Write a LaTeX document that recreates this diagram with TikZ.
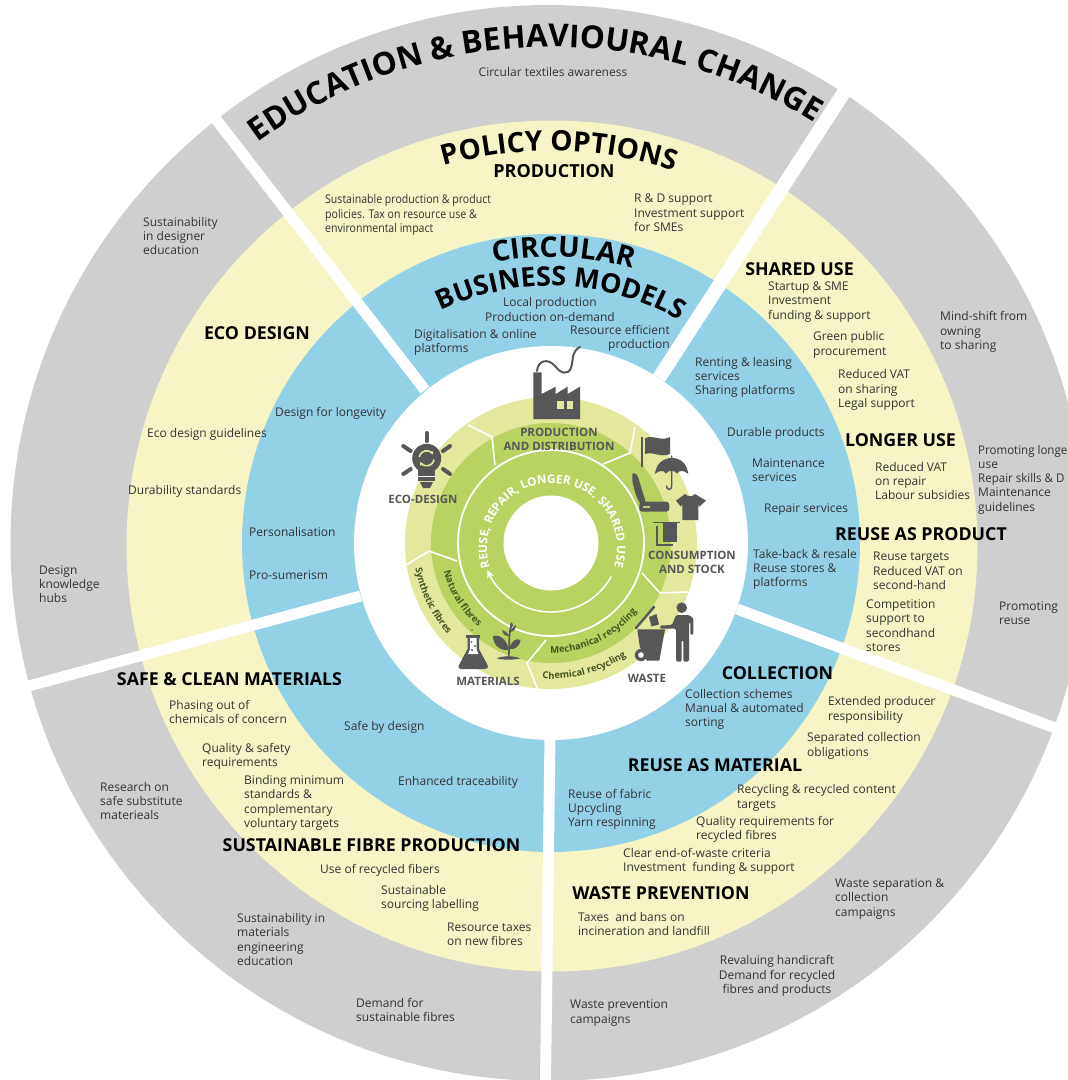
\documentclass[tikz,border=0pt]{standalone}
\usepackage{fontspec}
\setmainfont{Open Sans}
\newfontfamily\condfont[FakeStretch=0.88]{Open Sans}
\newfontfamily\slimfont[FakeStretch=0.96]{Open Sans}
\usetikzlibrary{decorations.text,arrows.meta}
\definecolor{ringgray}{HTML}{CFCFCF}
\definecolor{ringyellow}{HTML}{F7F5C6}
\definecolor{ringblue}{HTML}{93D2E6}
\definecolor{ringlight}{HTML}{E3E89D}
\definecolor{ringmid}{HTML}{B9D362}
\definecolor{ico}{HTML}{575757}
\definecolor{body}{HTML}{333333}
\definecolor{olive}{HTML}{45551F}
\newcommand{\fA}{\fontsize{31.5}{32}\selectfont\bfseries}
\newcommand{\fB}{\fontsize{28}{29}\selectfont\bfseries}
\newcommand{\fC}{\fontsize{27}{27}\selectfont\bfseries}
\newcommand{\fCc}{\fontsize{28.5}{28}\selectfont\bfseries}
\newcommand{\fD}{\fontsize{11.8}{11.5}\selectfont\bfseries\color{white}}
\newcommand{\fE}{\fontsize{9.5}{9.5}\selectfont\bfseries\color{olive}}
\tikzset{
  lab/.style={font=\fontsize{12}{14.3}\selectfont,text=body,align=left,inner sep=0pt,anchor=west,yshift=-1pt},
  labc/.style={lab,align=center,anchor=center},
  labr/.style={lab,align=right,anchor=east},
  condlab/.style={lab,font=\condfont\fontsize{12}{14.3}\selectfont},
  head/.style={font=\fontsize{17.8}{20}\selectfont\bfseries,text=black,inner sep=0pt,anchor=center},
  inlab/.style={font=\fontsize{11.5}{14}\selectfont\bfseries,text=ico,align=center,inner sep=0pt,anchor=center},
  gapline/.style={draw=white,line width=11pt},
  segline/.style={draw=white,line width=1.6pt,line join=miter},
  icofill/.style={fill=ico,draw=none},
  icoline/.style={draw=ico,fill=none,line cap=round},
}
\begin{document}
\begin{tikzpicture}[x=1pt,y=-1pt]
\useasboundingbox (0,0) rectangle (1068,1080);
\clip (0,0) rectangle (1068,1080);
\coordinate (c) at (551,543);
\coordinate (cg) at (548.5,543);
\coordinate (cy) at (552,546);
\coordinate (ct) at (552,548);
% rings
\fill[ringgray] (cg) circle (538pt);
\fill[ringyellow] (cy) circle (425.5pt);
\fill[ringblue] (c) circle (309pt);
\fill[white] (c) circle (197pt);
% separators
\coordinate (s1a) at (425,390); \coordinate (s1b) at (205,105);
\coordinate (s2a) at (659,378); \coordinate (s2b) at (852,80);
\coordinate (s3a) at (737,609); \coordinate (s3b) at (1074,735);
\coordinate (s4a) at (550,736); \coordinate (s4b) at (545.4,1090);
\coordinate (s5a) at (360.7,596); \coordinate (s5b) at (6.7,692);
\draw[gapline] (s1a) -- (s1b);
\draw[gapline,line width=14pt] (s2a) -- (s2b);
\draw[gapline] (s3a) -- (s3b);
\draw[gapline] (s4a) -- (s4b);
\draw[gapline] (s5a) -- (s5b);
% inner wheel
\fill[ringlight] (c) circle (146pt);
\fill[ringmid] (c) circle (120pt);
\fill[white] (c) circle (47.5pt);
\draw[white,line width=1.8pt] (c) circle (93pt);
\draw[segline] (468,425) -- (492,437) -- (495,465);
\draw[segline] (635,427) -- (630,453) -- (603,464);
\draw[segline] (688,592) -- (660,593) -- (642,573);
\draw[segline] (538,690) -- (527,663) -- (546,640);
\draw[segline] (406,565) -- (429,551) -- (457,561);
% arrow in the wheel
\draw[white,line width=1.5pt,-{Stealth[length=8pt,width=7pt]}] ([shift={(-29:69pt)}]c) arc[start angle=-29,end angle=-157,radius=69pt];
% curved titles
\path[decorate,decoration={text along path,text align=center,text={|\fA|EDUCATION {\&} BEHAVIOURAL CHANGE}}] ([shift={(128.6:496pt)}]c) arc[start angle=128.6,end angle=55.6,radius=496pt];
\path[decorate,decoration={text along path,text align=center,text={|\fB|POLICY OPTIONS}}] ([shift={(113.8:392pt)}]c) arc[start angle=113.8,end angle=63.8,radius=392pt];
\path[decorate,decoration={text along path,text align=center,text={|\fCc|CIRCULAR}}] ([shift={(105:286pt)}]c) arc[start angle=105,end angle=70,radius=286pt];
\path[decorate,decoration={text along path,text align=center,text={|\fC|BUSINESS MODELS}}] ([shift={(120:257pt)}]c) arc[start angle=120,end angle=55.5,radius=257pt];
\path[decorate,decoration={text along path,text align=center,text={|\fD|REUSE, REPAIR, LONGER USE, SHARED USE}}] ([shift={(200:65pt)}]ct) arc[start angle=200,end angle=-20,radius=65pt];
\path[decorate,decoration={text along path,text align=center,text={|\fE|Mechanical recycling}}] ([shift={(-96:110pt)}]c) arc[start angle=-96,end angle=-33,radius=110pt];
\path[decorate,decoration={text along path,text align=center,text={|\fE|Chemical recycling}}] ([shift={(-98:136pt)}]c) arc[start angle=-98,end angle=-52,radius=136pt];
\path[decorate,decoration={text along path,text align=center,text={|\fE|Natural fibres}}] ([shift={(188:111pt)}]c) arc[start angle=188,end angle=236,radius=111pt];
\path[decorate,decoration={text along path,text align=center,text={|\fE|Synthetic fibres}}] ([shift={(186:138pt)}]c) arc[start angle=186,end angle=226,radius=138pt];
% gray ring texts
\node[labc] (g01) at (553,71) {Circular textiles awareness};
\node[lab] (g02) at (143,235) {Sustainability\\in designer\\education};
\node[lab] (g03) at (940,331) {Mind-shift from\\owning\\to sharing};
\node[lab] (g04) at (978,478.5) {{\slimfont Promoting longe}\\use\\{\slimfont Repair skills \& D}\\Maintenance\\guidelines};
\node[lab] (g05) at (999,612) {Promoting\\reuse};
\node[lab] (g06) at (39,583) {Design\\knowledge\\hubs};
\node[lab] (g07) at (100,800) {Research on\\safe substitute\\materieals};
\node[lab] (g08) at (237,938.5) {Sustainability in\\materials\\engineering\\education};
\node[lab] (g09) at (356,1009) {Demand for\\sustainable fibres};
\node[lab] (g10) at (570,1012) {Waste prevention\\campaigns};
\node[labc] (g11) at (777,975) {Revaluing handicraft\\Demand for recycled\\fibres and products};
\node[lab] (g12) at (835,898) {Waste separation \&\\collection\\campaigns};
% yellow ring texts
\node[head,font=\fontsize{18}{20}\selectfont\bfseries] (y01) at (554,171) {PRODUCTION};
\node[condlab] (y02) at (325,214) {Sustainable production \& product\\policies. Tax on resource use \&\\environmental impact};
\node[lab] (y03) at (634,212) {R \& D support\\Investment support\\for SMEs};
\node[head] (y04) at (257,333) {ECO DESIGN};
\node[lab] (y05) at (147,433) {Eco design guidelines};
\node[lab] (y06) at (128,490) {Durability standards};
\node[head] (y07) at (799.5,269) {SHARED USE};
\node[lab] (y08) at (768,301) {Startup \& SME\\Investment\\funding \& support};
\node[lab] (y09) at (813,344) {Green public\\procurement};
\node[lab] (y10) at (838,389) {Reduced VAT\\on sharing\\Legal support};
\node[head] (y11) at (900.5,440) {LONGER USE};
\node[lab] (y12) at (875,480) {Reduced VAT\\on repair\\Labour subsidies};
\node[head] (y13) at (921,534) {REUSE AS PRODUCT};
\node[lab] (y14) at (873,570) {Reuse targets\\Reduced VAT on\\second-hand};
\node[lab] (y15) at (866,624.5) {Competition\\support to\\secondhand\\stores};
\node[lab] (y16) at (828,709) {Extended producer\\responsibility};
\node[lab] (y17) at (807,745) {Separated collection\\obligations};
\node[lab] (y18) at (737,797) {Recycling \& recycled content\\targets};
\node[lab] (y19) at (696,828) {Quality requirements for\\recycled fibres};
\node[lab] (y20) at (623,860.5) {Clear end-of-waste criteria\\Investment\ \ funding \& support};
\node[head] (y21) at (661,893) {WASTE PREVENTION};
\node[lab] (y22) at (578,923) {Taxes\ \ and bans on\\incineration and landfill};
\node[head] (y23) at (229.5,679) {SAFE \& CLEAN MATERIALS};
\node[lab] (y24) at (169,711) {Phasing out of\\chemicals of concern};
\node[lab] (y25) at (202,755) {Quality \& safety\\requirements};
\node[lab] (y26) at (244,802) {Binding minimum\\standards \&\\complementary\\voluntary targets};
\node[head] (y27) at (371.5,845) {SUSTAINABLE FIBRE PRODUCTION};
\node[lab] (y28) at (320,869) {Use of recycled fibers};
\node[lab] (y29) at (381,897.5) {Sustainable\\sourcing labelling};
\node[lab] (y30) at (447,933.5) {Resource taxes\\on new fibres};
% blue ring texts
\node[labc] (b01) at (550,308.5) {Local production\\Production on-demand};
\node[lab] (b02) at (414,341.5) {Digitalisation \& online\\platforms};
\node[labr] (b03) at (670,337) {Resource efficient\\production};
\node[lab] (b04) at (275,412) {Design for longevity};
\node[lab] (b05) at (249,531) {Personalisation};
\node[lab] (b06) at (249,574) {Pro-sumerism};
\node[lab] (b07) at (695,376.5) {Renting \& leasing\\services\\Sharing platforms};
\node[lab] (b08) at (727,432) {Durable products};
\node[lab] (b09) at (752,469) {Maintenance\\services};
\node[lab] (b10) at (764,509) {Repair services};
\node[lab] (b11) at (753,568.5) {Take-back \& resale\\Reuse stores \&\\platforms};
\node[head] (b12) at (777.5,673) {COLLECTION};
\node[lab] (b13) at (685,708.5) {Collection schemes\\Manual \& automated\\sorting};
\node[head] (b14) at (715,765) {REUSE AS MATERIAL};
\node[lab] (b15) at (568,808.5) {Reuse of fabric\\Upcycling\\Yarn respinning};
\node[lab] (b16) at (344,726) {Safe by design};
\node[lab] (b17) at (398,781) {Enhanced traceability};
% wheel labels
\node[inlab] (w01) at (559,439) {PRODUCTION\\AND DISTRIBUTION};
\node[inlab] (w02) at (423,499) {ECO-DESIGN};
\node[inlab] (w03) at (692,562) {CONSUMPTION\\AND STOCK};
\node[inlab] (w04) at (488,681) {MATERIALS};
\node[inlab] (w05) at (647,678) {WASTE};
% factory
\fill[icofill] (533.3,372.3) -- (541.7,372.3) -- (541.7,394) -- (555.7,386.7) -- (555.7,394) -- (567.7,386.7) -- (567.7,394) -- (580,386.7) -- (580,419) -- (533.3,419) -- cycle;
\fill[ringlight] (557.3,401) rectangle (564.3,409);
\fill[ringlight] (566.7,401) rectangle (573.3,409);
\draw[icoline,line width=2pt] (537,371) .. controls (538,360) and (548,358) .. (555,366) .. controls (561,374) and (568,375) .. (571,368) .. controls (574,358) and (571,352) .. (580,347);
% bulb
\fill[icofill] (426.7,458.3) circle (14.5pt);
\fill[icofill] (418,466) rectangle (435,481);
\fill[icofill] (420,482) -- (433,482) -- (430,488) -- (423,488) -- cycle;
\draw[white,line width=1pt] (418,476) -- (435,476);
\draw[icoline,line width=4pt] (426.7,433) -- (426.7,441);
\draw[icoline,line width=4pt] (403.3,446) -- (410.7,451);
\draw[icoline,line width=4pt] (450,446) -- (443,451);
\draw[icoline,line width=4pt] (403.3,474) -- (410.7,469);
\draw[icoline,line width=4pt] (450,474) -- (443,469);
\draw[ringlight,line width=1.6pt,-{Stealth[length=3.5pt,width=4pt]}] ([shift={(170:7.5pt)}]426.7,458.3) arc[start angle=170,end angle=30,radius=7.5pt];
\draw[ringlight,line width=1.6pt,-{Stealth[length=3.5pt,width=4pt]}] ([shift={(-10:7.5pt)}]426.7,458.3) arc[start angle=-10,end angle=-150,radius=7.5pt];
% flag
\fill[icofill] (641,436.7) rectangle (643.3,467.3);
\fill[icofill] (645,438.3) .. controls (653,434) and (660,442) .. (670,437) -- (670,454) .. controls (660,458) and (653,451) .. (645,454) -- cycle;
% umbrella
\fill[icofill] (655,474) .. controls (656,463) and (664,458) .. (671.7,458) .. controls (680,458) and (687,463) .. (688.3,474) .. controls (684,470) and (679,470) .. (677,473.5) .. controls (675,470) and (668,470) .. (666,473.5) .. controls (664,470) and (659,470) .. (655,474) -- cycle;
\draw[icoline,line width=1.4pt] (671.7,456) -- (671.7,486) .. controls (671.7,490.5) and (666.5,490.5) .. (666.5,486);
% seat
\fill[icofill] (632.3,473.5) .. controls (636,472) and (638,476) .. (639,480) -- (646,503) -- (640,503) .. controls (636,498) and (634,488) .. (632.5,482) -- cycle;
\fill[icofill,rounded corners=3pt] (639.3,501.7) rectangle (669.3,511.7);
\fill[ringmid] (643,505.5) rectangle (650,508);
% t-shirt
\fill[icofill] (685,494) .. controls (688,497) and (692,497) .. (695,494) -- (706,500.7) -- (699.3,506.7) -- (698.3,504) -- (698.3,520) -- (682.3,520) -- (682.3,504) -- (681,506.7) -- (676,500.7) -- cycle;
% towel
\fill[icofill] (653.3,522) rectangle (680,523.3);
\fill[icofill] (662.7,523.3) rectangle (677.3,541.7);
\draw[draw=ico,line width=2pt] (657.3,526) -- (657.3,544.5) -- (673,544.5);
% person and bin
\fill[icofill] (681.7,607.7) circle (5.3pt);
\fill[icofill,rounded corners=1.5pt] (676,615) -- (689,615) -- (693.3,618) -- (693.3,635) -- (690.3,635) -- (690.3,622) -- (689,622) -- (689,661.7) -- (683.3,661.7) -- (683.3,640) -- (681.7,640) -- (681.7,661.7) -- (676,661.7) -- (676,628.7) -- (660,628.7) -- (660,625.5) -- (672,625) -- cycle;
\fill[icofill] (637.3,629.3) -- (665,629.3) -- (659.3,660.7) -- (646.7,660.7) -- (644,650) -- (640,648) -- cycle;
\draw[icoline,line width=2.4pt] (636,628) -- (654,607);
\fill[icofill] (649,617) -- (656.5,614) -- (659,624.5) -- (651.5,626.5) -- cycle;
\fill[icofill] (641,655) circle (6.2pt);
\fill[white] (641,655) circle (2.8pt);
% flask
\fill[icofill] (465.8,635) rectangle (480.3,638);
\fill[icofill] (467.5,637) -- (479,637) -- (479,649) -- (487.5,665) .. controls (488.5,668) and (487,669) .. (485,669) -- (461,669) .. controls (458.5,669) and (457.5,667) .. (459,665) -- (467.5,649) -- cycle;
\fill[white] (469.8,638) -- (476.7,638) -- (476.7,650) -- (478.5,654) -- (468,654) -- (469.8,650) -- cycle;
\fill[icofill] (471.5,642) circle (0.9pt);
\fill[icofill] (475,646) circle (1.2pt);
\fill[icofill] (472,650) circle (1.2pt);
\fill[icofill] (472,630) circle (0.9pt);
% plant
\draw[draw=ico,line width=1.6pt] (508.5,659) .. controls (510,645) and (508,635) .. (511.5,624);
\fill[icofill] (497,658.5) .. controls (502,655.5) and (515,655.5) .. (520,658.5) .. controls (515,660) and (502,660) .. (497,658.5) -- cycle;
\fill[icofill] (509,650) .. controls (507,640) and (500,634) .. (493,636) .. controls (493,645) and (500,651) .. (509,650) -- cycle;
\fill[icofill] (509,649) .. controls (512,640) and (516,638) .. (520.5,640) .. controls (520,646) and (515,650) .. (509,649) -- cycle;
\fill[icofill] (510,632) .. controls (512,628) and (514,626) .. (516,625) .. controls (516,628) and (514,632) .. (510,632) -- cycle;
\fill[icofill] (509,636) .. controls (507,632) and (505,631) .. (502,630) .. controls (503,634) and (505,636) .. (509,636) -- cycle;
\fill[icofill] (511,629) .. controls (510,626) and (510,625) .. (511,622) .. controls (514,624) and (513,627) .. (511,629) -- cycle;
\end{tikzpicture}
\end{document}
